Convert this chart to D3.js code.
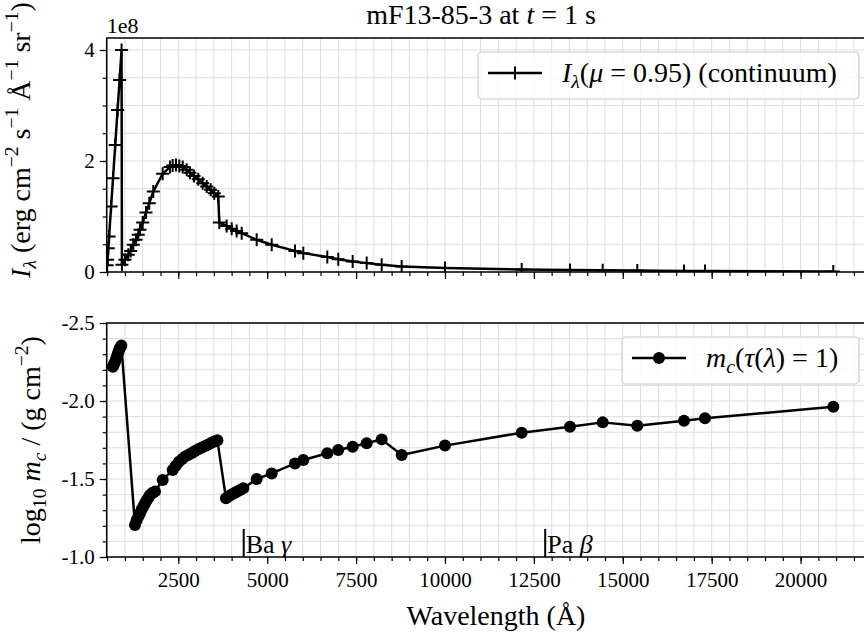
<!DOCTYPE html>
<meta charset="utf-8">
<style>

body {
  margin: 0;
  background: #fff;
}

svg {
  display: block;
}

svg text {
  font-family: "Liberation Serif", "DejaVu Serif", serif;
  fill: #000;
}

.grid line {
  stroke: #dedede;
  stroke-width: 1;
}

.axis path {
  display: none;
}

.axis line {
  stroke: #000;
  stroke-width: 1.2;
}

.axis text {
  font-size: 21px;
}

.frame {
  fill: none;
  stroke: #000;
  stroke-width: 1.5;
}

</style>
<body>
<script src="https://cdn.jsdelivr.net/npm/d3@7"></script>
<script>

// I_lambda (continuum) at mu = 0.95, top panel
var lamI = [500, 511, 532, 555, 611, 665, 727, 793, 850, 905,
    915, 1000, 1094, 1161, 1235, 1310, 1375, 1423, 1499, 1592, 1684, 1797,
    2061, 2267, 2343, 2435, 2528, 2624, 2736, 2829, 2942, 3062, 3186, 3299, 3411, 3512, 3625,
    3653, 3861, 4002, 4142, 4283, 4705, 5127, 5782, 6016, 6690, 6999, 7404, 7798, 8220, 8782,
    10000, 12157, 13515, 14435, 15408, 16721, 17312, 20920];

var intensity = [0.12e8, 0.22e8, 0.43e8, 0.64e8, 1.18e8, 1.69e8, 2.29e8, 2.92e8, 3.46e8, 4.0e8,
    0.13e8, 0.22e8, 0.31e8, 0.38e8, 0.49e8, 0.58e8, 0.67e8, 0.76e8, 0.89e8, 1.07e8, 1.24e8, 1.45e8,
    1.77e8, 1.89e8, 1.92e8, 1.93e8, 1.91e8, 1.89e8, 1.84e8, 1.79e8, 1.73e8, 1.67e8, 1.60e8, 1.54e8, 1.48e8, 1.42e8, 1.36e8,
    0.89e8, 0.83e8, 0.78e8, 0.74e8, 0.70e8, 0.58e8, 0.49e8, 0.38e8, 0.34e8, 0.27e8, 0.23e8, 0.19e8, 0.16e8, 0.13e8, 0.10e8,
    0.07e8, 0.045e8, 0.035e8, 0.03e8, 0.025e8, 0.02e8, 0.018e8, 0.01e8];

// log10 m_c where tau(lambda) = 1, bottom panel
var lamMc = [660, 690, 720, 750, 780, 810, 840, 870, 900,
    1282, 1330, 1380, 1423, 1470, 1520, 1564, 1610, 1660, 1704, 1770, 1845,
    2061,
    2343, 2430, 2520, 2610, 2700, 2790, 2880, 2970, 3060, 3150, 3240, 3330, 3420, 3510, 3600,
    3841, 3920, 4000, 4080, 4160, 4240, 4328,
    4705, 5127, 5782, 6016, 6690, 6999, 7404, 7798, 8220, 8782,
    10000, 12157, 13515, 14435, 15408, 16721, 17312, 20920];

var logMc = [-2.22, -2.235, -2.25, -2.27, -2.29, -2.31, -2.33, -2.345, -2.355,
    -1.205, -1.235, -1.262, -1.28, -1.305, -1.325, -1.344, -1.362, -1.38, -1.397, -1.41, -1.42,
    -1.494,
    -1.558, -1.585, -1.61, -1.628, -1.645, -1.655, -1.667, -1.68, -1.69, -1.70, -1.71, -1.72, -1.73, -1.74, -1.748,
    -1.376, -1.39, -1.40, -1.41, -1.42, -1.43, -1.44,
    -1.50, -1.536, -1.60, -1.622, -1.665, -1.686, -1.707, -1.729, -1.754, -1.654,
    -1.714, -1.797, -1.835, -1.863, -1.842, -1.874, -1.889, -1.963];

// spectral line markers
var lineNames = ["Ba", "Pa"];
var lineGreek = ["γ", "β"];
var lineWaves = [4340, 12818];

var xMajor = d3.range(2500, 22001, 2500),
    xMinor = d3.range(500, 22001, 500),
    iMajor = [0, 2e8, 4e8],
    iMinor = d3.range(0, 4.2e8, 0.5e8),
    mMajor = [-2.5, -2.0, -1.5, -1.0],
    mMinor = d3.range(0, 16).map(function(i) { return -2.5 + i * 0.1; });

var width = 864,
    height = 634,
    left = 106.7,
    right = 871.7,
    fs = 28,
    serif = "'Liberation Serif', 'DejaVu Serif', serif";

var svg = d3.select("body").append("svg")
    .attr("width", width)
    .attr("height", height);

var x = d3.scaleLinear().domain([487, 22000]).range([left, right]);
var yI = d3.scaleLinear().domain([0, 4.216e8]).range([272, 38]);
var yM = d3.scaleLinear().domain([-2.5, -1.0]).range([323, 557]);

function label(parent) {
  return parent.append("text").attr("font-family", serif);
}

// draws math-ish text with italics, sub and superscripts
function rich(sel, parts, size) {
  var cur = 0;
  sel.style("font-size", size + "px");
  parts.forEach(function(p) {
    var kind = p[1] || "",
        small = kind === "sup" || kind.indexOf("sub") === 0,
        target = kind.indexOf("sub") === 0 ? 0.22 * size : kind === "sup" ? -0.42 * size : 0;
    var t = sel.append("tspan")
        .text(p[0])
        .attr("dy", target - cur)
        .style("font-size", (small ? 0.7 * size : size) + "px");
    if (kind === "i" || kind === "subi") t.style("font-style", "italic");
    cur = target;
  });
  return sel;
}

function fixFont(g) {
  g.attr("font-family", null).attr("font-size", null);
  g.selectAll("text").attr("font-family", serif);
}

function panel(y, yMaj, yMin, top, bottom, name) {
  var g = svg.append("g");
  g.append("clipPath").attr("id", "clip-" + name)
    .append("rect").attr("x", left).attr("y", top).attr("width", right - left).attr("height", bottom - top);

  var grid = g.append("g").attr("class", "grid");
  grid.selectAll(".gx").data(xMinor).enter().append("line")
      .attr("x1", x).attr("x2", x).attr("y1", top).attr("y2", bottom);
  grid.selectAll(".gy").data(yMin).enter().append("line")
      .attr("x1", left).attr("x2", right).attr("y1", y).attr("y2", y);

  g.append("g").attr("class", "axis")
      .attr("transform", "translate(0," + bottom + ")")
      .call(d3.axisBottom(x).tickValues(xMinor).tickSize(4).tickFormat(""));
  g.append("g").attr("class", "axis")
      .attr("transform", "translate(" + left + ",0)")
      .call(d3.axisLeft(y).tickValues(yMin).tickSize(4).tickFormat(""));
  g.append("g").attr("class", "axis")
      .attr("transform", "translate(" + left + ",0)")
      .call(d3.axisLeft(y).tickValues(yMaj).tickSize(7).tickPadding(5)
        .tickFormat(name === "top" ? function(d) { return d / 1e8; } : function(d) { return d.toFixed(1); }))
      .call(fixFont);

  g.append("rect").attr("class", "frame")
      .attr("x", left).attr("y", top).attr("width", right - left).attr("height", bottom - top);

  return g.append("g").attr("clip-path", "url(#clip-" + name + ")");
}

// top panel
var gTop = panel(yI, iMajor, iMinor, 38, 272, "top");
svg.append("g").attr("class", "axis")
    .attr("transform", "translate(0,272)")
    .call(d3.axisBottom(x).tickValues(xMajor).tickSize(7).tickFormat(""));

var lineI = d3.line()
    .x(function(d, i) { return x(lamI[i]); })
    .y(function(d) { return yI(d); });

gTop.append("path")
    .datum(intensity)
    .attr("d", lineI)
    .attr("fill", "none")
    .attr("stroke", "#000")
    .attr("stroke-width", 2.5)
    .attr("stroke-linejoin", "round");

gTop.selectAll(".plus").data(intensity).enter().append("path")
    .attr("transform", function(d, i) { return "translate(" + x(lamI[i]) + "," + yI(d) + ")"; })
    .attr("d", "M-6.5,0H6.5M0,-6.5V6.5")
    .attr("stroke", "#000")
    .attr("stroke-width", 2);

label(svg)
    .attr("x", left)
    .attr("y", 33)
    .style("font-size", "22px")
    .text("1e8");

// bottom panel
var gBot = panel(yM, mMajor, mMinor, 323, 557, "bottom");
svg.append("g").attr("class", "axis")
    .attr("transform", "translate(0,557)")
    .call(d3.axisBottom(x).tickValues(xMajor).tickSize(7).tickPadding(8).tickFormat(d3.format("d")))
    .call(fixFont);

var lineM = d3.line()
    .x(function(d, i) { return x(lamMc[i]); })
    .y(function(d) { return yM(d); });

gBot.append("path")
    .datum(logMc)
    .attr("d", lineM)
    .attr("fill", "none")
    .attr("stroke", "#000")
    .attr("stroke-width", 2.5)
    .attr("stroke-linejoin", "round");

gBot.selectAll(".dot").data(logMc).enter().append("circle")
    .attr("cx", function(d, i) { return x(lamMc[i]); })
    .attr("cy", function(d) { return yM(d); })
    .attr("r", 6)
    .attr("fill", "#000");

// line annotations
lineWaves.forEach(function(w, i) {
  gBot.append("line")
      .attr("x1", x(w)).attr("x2", x(w))
      .attr("y1", yM(-1.0)).attr("y2", yM(-1.18))
      .attr("stroke", "#000")
      .attr("stroke-width", 2);
  rich(label(gBot).attr("x", x(w) + 2).attr("y", 553),
      [[lineNames[i] + " "], [lineGreek[i], "i"]], 26);
});

// legends
function legend(ly, w, marker, parts) {
  var g = svg.append("g");
  g.append("rect")
      .attr("x", 859 - w).attr("y", ly).attr("width", w).attr("height", 47)
      .attr("rx", 4)
      .attr("fill", "#fff").attr("fill-opacity", 0.8)
      .attr("stroke", "#cccccc").attr("stroke-width", 1.2);
  var x0 = 859 - w + 10;
  g.append("line")
      .attr("x1", x0).attr("x2", x0 + 54).attr("y1", ly + 21).attr("y2", ly + 21)
      .attr("stroke", "#000").attr("stroke-width", 2.5);
  if (marker === "plus") {
    g.append("path").attr("transform", "translate(" + (x0 + 27) + "," + (ly + 21) + ")")
        .attr("d", "M-6.5,0H6.5M0,-6.5V6.5").attr("stroke", "#000").attr("stroke-width", 2);
  } else {
    g.append("circle").attr("cx", x0 + 27).attr("cy", ly + 21).attr("r", 6).attr("fill", "#000");
  }
  rich(label(g).attr("x", x0 + 74).attr("y", ly + 30), parts, fs);
}

legend(52, 381, "plus", [["I", "i"], ["λ", "subi"], ["("], ["μ", "i"], [" = 0.95)  (continuum)"]]);
legend(337, 237, "dot", [["m", "i"], ["c", "subi"], ["("], ["τ", "i"], ["("], ["λ", "i"], [") = 1)"]]);

// titles and axis labels
rich(label(svg).attr("x", 481).attr("y", 24).attr("text-anchor", "middle"),
    [["mF13-85-3 at "], ["t", "i"], [" = 1 s"]], fs);

label(svg)
    .attr("x", 496).attr("y", 625)
    .attr("text-anchor", "middle")
    .style("font-size", fs + "px")
    .text("Wavelength (Å)");

rich(label(svg).attr("transform", "translate(30,140) rotate(-90)").attr("text-anchor", "middle"),
    [["I", "i"], ["λ", "subi"], [" (erg cm"], ["−2", "sup"], [" s"], ["−1", "sup"], [" Å"], ["−1", "sup"], [" sr"], ["−1", "sup"], [")"]], fs);

rich(label(svg).attr("transform", "translate(40,440) rotate(-90)").attr("text-anchor", "middle"),
    [["log"], ["10", "sub"], [" "], ["m", "i"], ["c", "subi"], [" / (g cm"], ["−2", "sup"], [")"]], fs);

</script>
